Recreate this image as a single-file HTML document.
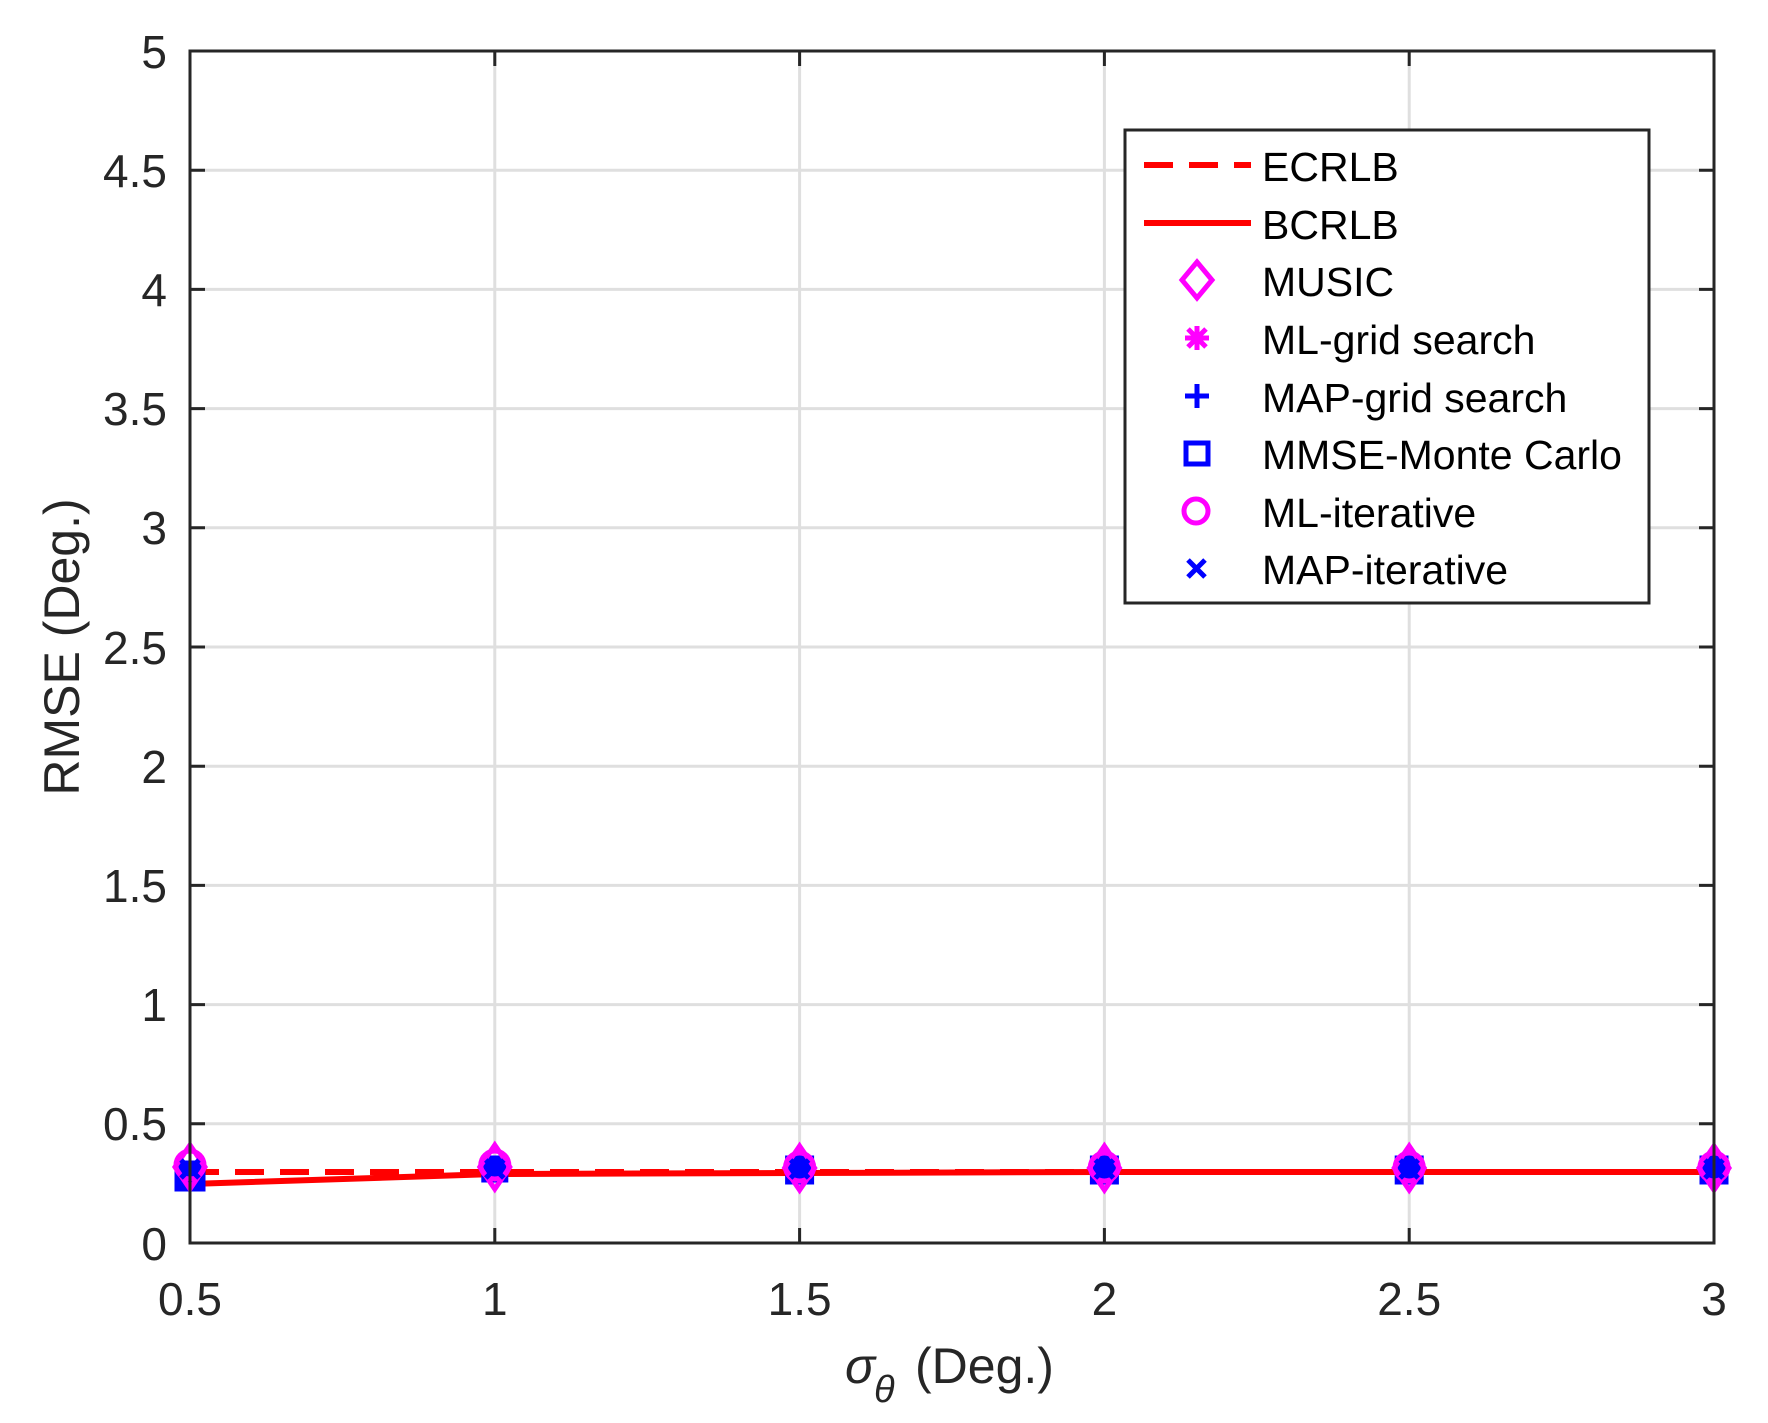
<!DOCTYPE html>
<html><head><meta charset="utf-8"><style>
html,body{margin:0;padding:0;background:#fff}
svg{display:block}
text{font-family:"Liberation Sans",Arial,sans-serif;fill:#262626}
</style></head><body>
<svg width="1768" height="1423" viewBox="0 0 1768 1423" xmlns="http://www.w3.org/2000/svg">
<rect width="1768" height="1423" fill="#fff"/>
<g stroke="#dfdfdf" stroke-width="3">
<line x1="494.8" y1="51" x2="494.8" y2="1243"/>
<line x1="799.6" y1="51" x2="799.6" y2="1243"/>
<line x1="1104.4" y1="51" x2="1104.4" y2="1243"/>
<line x1="1409.2" y1="51" x2="1409.2" y2="1243"/>
<line x1="190" y1="1123.8" x2="1714" y2="1123.8"/>
<line x1="190" y1="1004.6" x2="1714" y2="1004.6"/>
<line x1="190" y1="885.4" x2="1714" y2="885.4"/>
<line x1="190" y1="766.2" x2="1714" y2="766.2"/>
<line x1="190" y1="647" x2="1714" y2="647"/>
<line x1="190" y1="527.8" x2="1714" y2="527.8"/>
<line x1="190" y1="408.6" x2="1714" y2="408.6"/>
<line x1="190" y1="289.4" x2="1714" y2="289.4"/>
<line x1="190" y1="170.2" x2="1714" y2="170.2"/>
</g>
<polyline points="190,1172 494.8,1172 799.6,1172 1104.4,1172 1409.2,1172 1714,1172" fill="none" stroke="#f00" stroke-width="6" stroke-dasharray="29,16"/>
<polyline points="190,1184 494.8,1174 799.6,1173 1104.4,1172 1409.2,1172 1714,1172" fill="none" stroke="#f00" stroke-width="6"/>
<g stroke-width="5" fill="none">
<g transform="translate(190,0)">
<rect x="-13" y="1163" width="26" height="26" fill="#00f" stroke="#00f"/>
<circle cx="0" cy="1165" r="14" stroke="#f0f"/>
<path d="M0,1145 L15,1167 L0,1189 L-15,1167Z" stroke="#f0f"/>
<path d="M-9,1160 L9,1178 M9,1160 L-9,1178" stroke="#00f"/>
</g>
<g transform="translate(494.8,0)">
<rect x="-11" y="1158" width="22" height="22" fill="#00f" stroke="#00f"/>
<circle cx="0" cy="1165" r="14" stroke="#f0f"/>
<path d="M0,1145 L15,1167 L0,1189 L-15,1167Z" stroke="#f0f"/>
<path d="M-9,1160 L9,1178 M9,1160 L-9,1178" stroke="#00f"/>
</g>
<g transform="translate(799.6,0)">
<rect x="-12" y="1158" width="24" height="24" fill="#00f" stroke="#00f"/>
<circle cx="0" cy="1167" r="14" stroke="#f0f"/>
<path d="M0,1146 L15,1168 L0,1190 L-15,1168Z" stroke="#f0f"/>
<path d="M-9,1160 L9,1178 M9,1160 L-9,1178" stroke="#00f"/>
</g>
<g transform="translate(1104.4,0)">
<rect x="-12" y="1158" width="24" height="24" fill="#00f" stroke="#00f"/>
<circle cx="0" cy="1167" r="14" stroke="#f0f"/>
<path d="M0,1146 L15,1168 L0,1190 L-15,1168Z" stroke="#f0f"/>
<path d="M-9,1160 L9,1178 M9,1160 L-9,1178" stroke="#00f"/>
</g>
<g transform="translate(1409.2,0)">
<rect x="-12" y="1158" width="24" height="24" fill="#00f" stroke="#00f"/>
<circle cx="0" cy="1167" r="14" stroke="#f0f"/>
<path d="M0,1146 L15,1168 L0,1190 L-15,1168Z" stroke="#f0f"/>
<path d="M-9,1160 L9,1178 M9,1160 L-9,1178" stroke="#00f"/>
</g>
<g transform="translate(1714,0)">
<rect x="-12" y="1158" width="24" height="24" fill="#00f" stroke="#00f"/>
<circle cx="0" cy="1167" r="14" stroke="#f0f"/>
<path d="M0,1146 L15,1168 L0,1190 L-15,1168Z" stroke="#f0f"/>
<path d="M-9,1160 L9,1178 M9,1160 L-9,1178" stroke="#00f"/>
</g>
</g>
<rect x="190" y="51" width="1524" height="1192" fill="none" stroke="#262626" stroke-width="3"/>
<g stroke="#262626" stroke-width="3">
<path d="M190,1243v-15M494.8,1243v-15M799.6,1243v-15M1104.4,1243v-15M1409.2,1243v-15M1714,1243v-15"/>
<path d="M190,51v15M494.8,51v15M799.6,51v15M1104.4,51v15M1409.2,51v15M1714,51v15"/>
<path d="M190,1123.8h15M190,1004.6h15M190,885.4h15M190,766.2h15M190,647h15M190,527.8h15M190,408.6h15M190,289.4h15M190,170.2h15"/>
<path d="M1714,1123.8h-15M1714,1004.6h-15M1714,885.4h-15M1714,766.2h-15M1714,647h-15M1714,527.8h-15M1714,408.6h-15M1714,289.4h-15M1714,170.2h-15"/>
</g>
<g font-size="46" text-anchor="end">
<text x="167" y="1260">0</text>
<text x="167" y="1140">0.5</text>
<text x="167" y="1021">1</text>
<text x="167" y="902">1.5</text>
<text x="167" y="783">2</text>
<text x="167" y="664">2.5</text>
<text x="167" y="544">3</text>
<text x="167" y="425">3.5</text>
<text x="167" y="306">4</text>
<text x="167" y="187">4.5</text>
<text x="167" y="68">5</text>
</g>
<g font-size="46" text-anchor="middle">
<text x="190" y="1315">0.5</text>
<text x="494.8" y="1315">1</text>
<text x="799.6" y="1315">1.5</text>
<text x="1104.4" y="1315">2</text>
<text x="1409.2" y="1315">2.5</text>
<text x="1714" y="1315">3</text>
</g>
<text transform="translate(79,647) rotate(-90)" font-size="50" text-anchor="middle">RMSE (Deg.)</text>
<text x="845" y="1383" font-size="50" font-style="italic" font-family="Liberation Serif,serif">σ</text>
<text x="874" y="1402" font-size="38" font-style="italic" font-family="Liberation Serif,serif">θ</text>
<text x="915" y="1383" font-size="50">(Deg.)</text>
<rect x="1125" y="130" width="524" height="473" fill="#fff" stroke="#262626" stroke-width="3"/>
<line x1="1144" y1="165" x2="1251" y2="165" stroke="#f00" stroke-width="6" stroke-dasharray="29,16"/>
<line x1="1144" y1="223" x2="1251" y2="223" stroke="#f00" stroke-width="6"/>
<g fill="none" stroke-width="5">
<path d="M1197,262 L1212,280 L1197,298 L1182,280Z" stroke="#f0f"/>
<path d="M1197,326v24M1185,338h24M1188,329l18,18M1206,329l-18,18" stroke="#f0f"/>
<path d="M1197,384v24M1185,396h24" stroke="#00f"/>
<rect x="1186" y="443" width="22" height="21" stroke="#00f"/>
<circle cx="1196" cy="511" r="12" stroke="#f0f"/>
<path d="M1188,560l17,17M1205,560l-17,17" stroke="#00f"/>
</g>
<g font-size="41">
<text x="1262" y="181" style="fill:#000">ECRLB</text>
<text x="1262" y="239" style="fill:#000">BCRLB</text>
<text x="1262" y="296" style="fill:#000">MUSIC</text>
<text x="1262" y="354" style="fill:#000">ML-grid search</text>
<text x="1262" y="412" style="fill:#000">MAP-grid search</text>
<text x="1262" y="469" style="fill:#000">MMSE-Monte Carlo</text>
<text x="1262" y="527" style="fill:#000">ML-iterative</text>
<text x="1262" y="584" style="fill:#000">MAP-iterative</text>
</g>
</svg>
</body></html>
